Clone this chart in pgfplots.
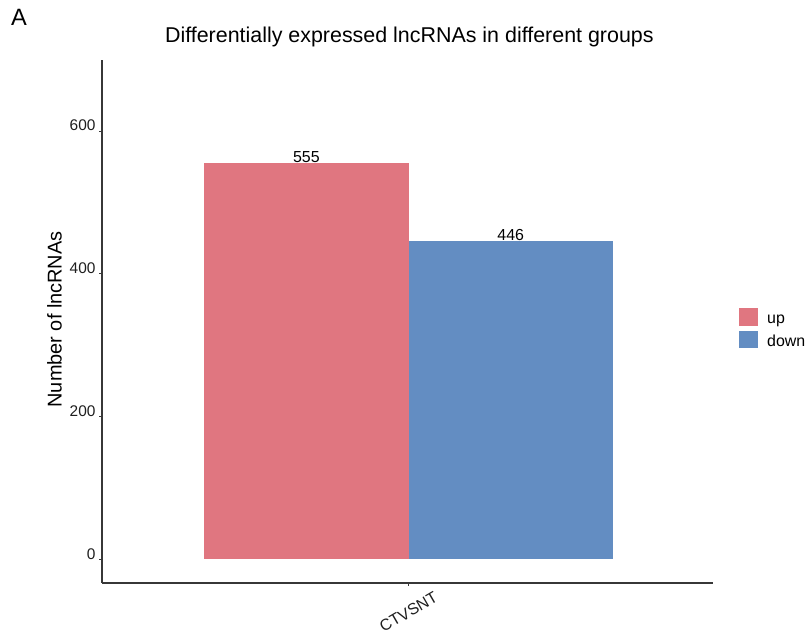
\documentclass[border=0pt]{standalone}
\usepackage{fontspec}
\setmainfont{Liberation Sans}
\usepackage{pgfplots}
\pgfplotsset{compat=1.18}

\definecolor{upred}{RGB}{224,118,128}
\definecolor{downblue}{RGB}{99,141,194}
\definecolor{axisgray}{RGB}{55,55,55}
\definecolor{labelgray}{RGB}{30,30,30}

\newcommand{\fs}[1]{\fontsize{#1}{#1}\selectfont}

\begin{document}
\begin{tikzpicture}[x=1bp,y=1bp]
\useasboundingbox (0,0) rectangle (805,637);
\node[anchor=base west, inner sep=0pt, font=\fs{23.7}] at (11,611) {A};
\begin{axis}[
  at={(102bp,54bp)}, anchor=south west,
  scale only axis, width=611bp, height=523bp,
  xmin=-1.5, xmax=1.49, ymin=-33.6, ymax=699.4,
  /pgf/number format/assume math mode=true,
  axis x line=bottom, axis y line=left,
  axis line style={-, draw=axisgray, line width=1.2bp},
  tick align=outside, major tick length=3bp,
  tick style={draw=axisgray, line width=0.8bp},
  xtick={0}, xticklabels={CTVSNT},
  ytick={0,200,400,600},
  yticklabel style={anchor=base east, font=\fs{15.5}, text=labelgray},
  xticklabel style={yshift=-26bp, rotate=30, anchor=center, font=\fs{16}, text=labelgray},
  title={Differentially expressed lncRNAs in different groups},
  title style={at={(axis description cs:0.503,1)}, anchor=base, yshift=12bp, font=\fs{21.5}, inner sep=0pt},
  ylabel={Number of lncRNAs},
  ylabel style={at={(axis description cs:-0.0777,0.504)}, anchor=center, font=\fs{20}, inner sep=0pt},
  ybar, bar shift=0pt, bar width=2,
  nodes near coords,
  every node near coord/.append style={anchor=base, font=\fs{16}, inner sep=0pt, yshift=0.5bp, text=black},
  legend style={at={(axis description cs:1.0376,0.5296)}, anchor=north west,
    draw=none, fill=none, font=\fs{16}, row sep=0bp,
    nodes={inner sep=0pt, text height=13bp, text depth=7bp}},
  legend cell align=left,
  legend image code/.code={\fill[#1, draw=none] (0bp,-5bp) rectangle (19bp,12.5bp); \path (28bp,0bp);},
]
\addplot[fill=upred, draw=none, bar width=1] coordinates {(-0.5,555)};
\addplot[fill=downblue, draw=none, bar width=1] coordinates {(0.5,446)};
\legend{up, down}
\end{axis}
\end{tikzpicture}
\end{document}
